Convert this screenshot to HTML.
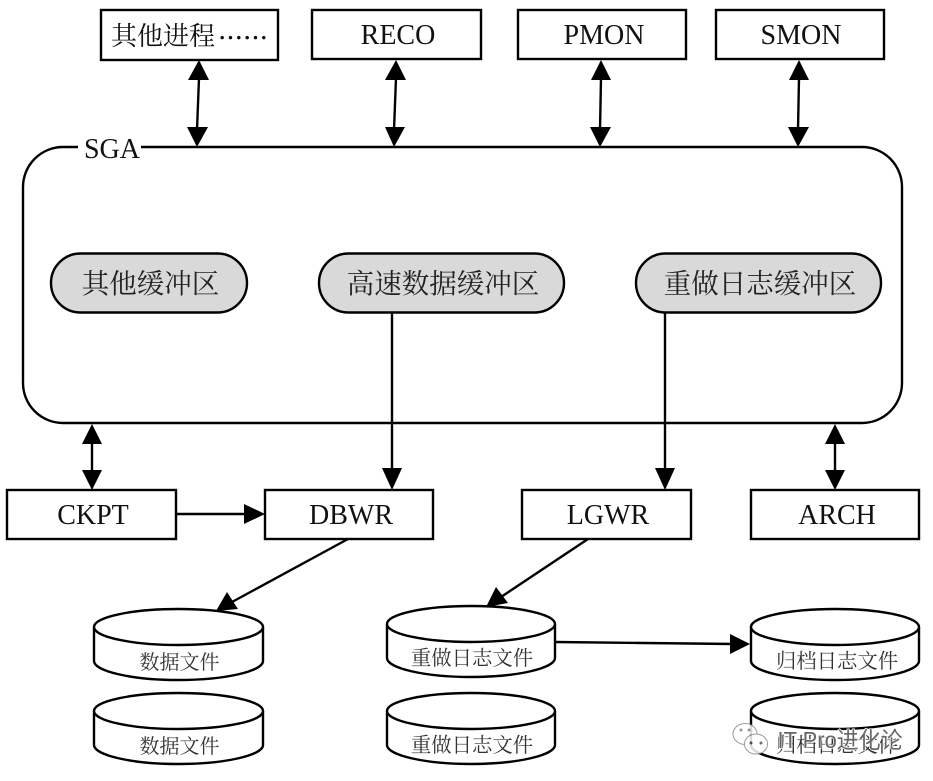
<!DOCTYPE html>
<html><head><meta charset="utf-8">
<style>
html,body{margin:0;padding:0;background:#fff;width:933px;height:781px;overflow:hidden}
svg{display:block;filter:blur(0.35px)}
text{font-family:"Liberation Serif","Noto Serif CJK SC",serif;fill:#111;text-anchor:middle}
.b{fill:#fff;stroke:#000;stroke-width:2.4}
.l{stroke:#000;stroke-width:2.4;fill:none}
.a{fill:#000;stroke:none}
.t{font-size:28px}
.c{font-size:27.5px;fill:#222}
.d{font-size:20px;fill:#333}
.e{font-size:20.4px;fill:#333}
</style></head><body>
<svg width="933" height="781" viewBox="0 0 933 781" xmlns="http://www.w3.org/2000/svg">
<rect class="b" x="101" y="10" width="177" height="50"/>
<rect class="b" x="312" y="10" width="169" height="49"/>
<rect class="b" x="518" y="10" width="168" height="49"/>
<rect class="b" x="716" y="10" width="168" height="49"/>
<text x="163" y="45" style="font-size:26px">其他进程</text>
<text x="243" y="47" lang="zh-CN" textLength="50" lengthAdjust="spacingAndGlyphs" style="font-size:25px;font-family:'Noto Serif CJK SC',serif;stroke:#111;stroke-width:0.7px">……</text>
<text class="t" x="398" y="44">RECO</text>
<text class="t" x="604" y="44">PMON</text>
<text class="t" x="801" y="44">SMON</text>

<rect class="b" x="23" y="147" width="879" height="276" rx="40" ry="40"/>
<rect x="78" y="140" width="63" height="16" fill="#fff"/>
<text class="t" x="112" y="158">SGA</text>

<rect x="51" y="253.500" width="196" height="59" rx="29.500" fill="#d9d9d9" stroke="#000" stroke-width="2.400"/>
<rect x="319" y="253.500" width="245" height="59" rx="29.500" fill="#d9d9d9" stroke="#000" stroke-width="2.400"/>
<rect x="636" y="253.500" width="245" height="59" rx="29.500" fill="#d9d9d9" stroke="#000" stroke-width="2.400"/>
<text class="c" x="150.500" y="293">其他缓冲区</text>
<text class="c" x="443" y="293">高速数据缓冲区</text>
<text class="c" x="760" y="293">重做日志缓冲区</text>

<rect class="b" x="7" y="490" width="169" height="49"/>
<rect class="b" x="265" y="490" width="168" height="49"/>
<rect class="b" x="522" y="490" width="169" height="49"/>
<rect class="b" x="751" y="490" width="168" height="49"/>
<text class="t" x="93" y="524">CKPT</text>
<text class="t" x="351" y="524">DBWR</text>
<text class="t" x="608" y="524">LGWR</text>
<text class="t" x="837" y="524">ARCH</text>

<!-- top arrows -->
<line class="l" x1="199" y1="78" x2="197" y2="130"/>
<polygon class="a" points="199,60 209,80 188,80"/>
<polygon class="a" points="197,147 187,127 208,127"/>
<line class="l" x1="396" y1="78" x2="394" y2="130"/>
<polygon class="a" points="396,60 406,80 385,80"/>
<polygon class="a" points="394,147 385,127 405,127"/>
<line class="l" x1="601" y1="78" x2="600" y2="130"/>
<polygon class="a" points="601,60 611,80 591,80"/>
<polygon class="a" points="600,147 590,127 611,127"/>
<line class="l" x1="799" y1="78" x2="798" y2="130"/>
<polygon class="a" points="799,60 809,80 789,80"/>
<polygon class="a" points="798,147 788,127 809,127"/>

<!-- vertical mid arrows -->
<line class="l" x1="92" y1="440" x2="92" y2="472"/>
<polygon class="a" points="92,424 102,444 82,444"/>
<polygon class="a" points="92,490 82,470 102,470"/>
<line class="l" x1="835" y1="440" x2="835" y2="472"/>
<polygon class="a" points="835,424 845,444 825,444"/>
<polygon class="a" points="835,490 825,470 845,470"/>
<line class="l" x1="392" y1="313" x2="392" y2="472"/>
<polygon class="a" points="392,490 382,468 402,468"/>
<line class="l" x1="665" y1="313" x2="665" y2="472"/>
<polygon class="a" points="665,490 655,468 675,468"/>

<!-- CKPT to DBWR -->
<line class="l" x1="176" y1="514" x2="248" y2="514"/>
<polygon class="a" points="265,514 244,504 244,524"/>

<!-- cylinders -->
<g>
<path class="b" d="M94,627 V661 C94,671 131,680 178.500,680 C226,680 263,671 263,661 V627"/>
<ellipse class="b" cx="178.500" cy="627" rx="84.500" ry="18"/>
<path class="b" d="M94,711 V745 C94,755 131,764 178.500,764 C226,764 263,755 263,745 V711"/>
<ellipse class="b" cx="178.500" cy="711" rx="84.500" ry="18"/>
<path class="b" d="M387,624 V658 C387,668 424,677 471,677 C518,677 555,668 555,658 V624"/>
<ellipse class="b" cx="471" cy="624" rx="84" ry="18"/>
<path class="b" d="M387,711 V745 C387,755 424,764 471,764 C518,764 555,755 555,745 V711"/>
<ellipse class="b" cx="471" cy="711" rx="84" ry="18"/>
<path class="b" d="M751,627 V661 C751,671 788,680 835,680 C882,680 919,671 919,661 V627"/>
<ellipse class="b" cx="835" cy="627" rx="84" ry="18"/>
<path class="b" d="M751,711 V745 C751,755 788,764 835,764 C882,764 919,755 919,745 V711"/>
<ellipse class="b" cx="835" cy="711" rx="84" ry="18"/>
</g>
<text class="d" x="179.500" y="669">数据文件</text>
<text class="d" x="179.500" y="753">数据文件</text>
<text class="e" x="472" y="665">重做日志文件</text>
<text class="e" x="472" y="752">重做日志文件</text>
<text class="e" x="837" y="668">归档日志文件</text>
<text class="e" x="837" y="752">归档日志文件</text>

<!-- data arrows -->
<line class="l" x1="348" y1="539" x2="232" y2="602"/>
<polygon class="a" points="216,611 227,592 238,609"/>
<line class="l" x1="588" y1="539" x2="501" y2="597"/>
<polygon class="a" points="486,607 496,587 508,603"/>
<line class="l" x1="555" y1="642" x2="734" y2="644"/>
<polygon class="a" points="750,644 730,634 730,654"/>

<!-- watermark -->
<g opacity="0.85">
<ellipse cx="745" cy="734" rx="12" ry="10.500" fill="#fff" stroke="#888" stroke-width="1"/>
<ellipse cx="756" cy="744" rx="11.500" ry="10" fill="#fff" stroke="#888" stroke-width="1"/>
<circle cx="751" cy="743" r="1.500" fill="#555"/>
<circle cx="761" cy="743" r="1.500" fill="#555"/>
<circle cx="741" cy="730" r="1.500" fill="#888"/>
<circle cx="749" cy="730" r="1.500" fill="#888"/>
</g>
<text x="840" y="748" textLength="125" lengthAdjust="spacingAndGlyphs" style="font-size:23px;fill:#666;stroke:#fff;stroke-width:1.5px;paint-order:stroke;font-family:'Liberation Sans','Noto Sans CJK SC',sans-serif">IT Pro进化论</text>
</svg>
</body></html>
